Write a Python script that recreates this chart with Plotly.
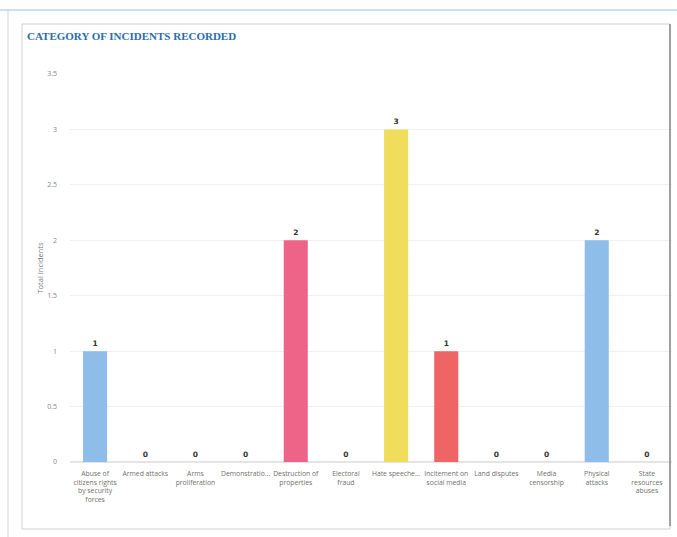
import plotly.graph_objects as go

categories = [
    "Abuse of<br>citizens rights<br>by security<br>forces",
    "Armed attacks",
    "Arms<br>proliferation",
    "Demonstratio...",
    "Destruction of<br>properties",
    "Electoral<br>fraud",
    "Hate speeche...",
    "Incitement on<br>social media",
    "Land disputes",
    "Media<br>censorship",
    "Physical<br>attacks",
    "State<br>resources<br>abuses",
]
values = [1, 0, 0, 0, 2, 0, 3, 1, 0, 0, 2, 0]
colors = ["#8dbde8", "#8dbde8", "#8dbde8", "#8dbde8", "#ee6489", "#8dbde8",
          "#f1dd5c", "#ef6464", "#8dbde8", "#8dbde8", "#8dbde8", "#8dbde8"]
y_ticks = [0, 0.5, 1, 1.5, 2, 2.5, 3, 3.5]

fig = go.Figure(go.Bar(
    x=list(range(len(categories))), y=values,
    marker=dict(color=colors, line=dict(width=0)),
    width=0.48,
    text=["<b>%d</b>" % v for v in values], textposition="outside",
    textfont=dict(size=7.5, color="#333333", family="DejaVu Sans"),
    cliponaxis=False,
))

fig.update_layout(
    width=677, height=537,
    margin=dict(l=70, r=5, t=74, b=75),
    paper_bgcolor="white", plot_bgcolor="white",
    showlegend=False,
    font=dict(family="Open Sans", color="#666666"),
    xaxis=dict(
        tickmode="array", tickvals=list(range(len(categories))), ticktext=categories,
        tickfont=dict(size=6.8, color="#707070"), tickangle=0,
        range=[-0.5, len(categories) - 0.5],
        showgrid=False, showline=False, ticks="", zeroline=False,
        ticklabelstandoff=6,
    ),
    yaxis=dict(
        range=[0, 3.5], tickvals=y_ticks, ticktext=[("%g" % t) for t in y_ticks],
        tickfont=dict(size=7, color="#888888"),
        showgrid=True, gridcolor="#f0f0f0", gridwidth=1,
        zeroline=True, zerolinecolor="#e4e4e4",
        showline=False, ticks="", ticklabelstandoff=12,
        title=dict(text="Total Incidents", font=dict(size=7.5, color="#777777"), standoff=2),
    ),
    annotations=[dict(
        text="<b>CATEGORY OF INCIDENTS RECORDED</b>", xref="paper", yref="paper",
        x=-45 / 602, y=1 + 38 / 388, xanchor="left", yanchor="middle", showarrow=False,
        font=dict(family="Liberation Serif", size=11, color="#2b6cae"),
    )],
    shapes=[
        dict(type="line", xref="paper", yref="paper", x0=-70 / 602, x1=1 + 5 / 602,
             y0=1 + 64 / 388, y1=1 + 64 / 388, line=dict(color="#bcd6ea", width=1.5)),
        dict(type="line", xref="paper", yref="paper", x0=-62 / 602, x1=-62 / 602,
             y0=1 + 64 / 388, y1=-75 / 388, line=dict(color="#d5d5d5", width=1)),
        dict(type="rect", xref="paper", yref="paper", x0=-48 / 602, x1=1 - 2 / 602,
             y0=-67 / 388, y1=1 + 50 / 388, line=dict(color="#d0d0d0", width=1)),
        dict(type="line", xref="paper", yref="paper", x0=1 - 2 / 602, x1=1 - 2 / 602,
             y0=-64 / 388, y1=1 + 50 / 388, line=dict(color="#888888", width=1.5)),
    ],
)

fig.write_html("out.html")
